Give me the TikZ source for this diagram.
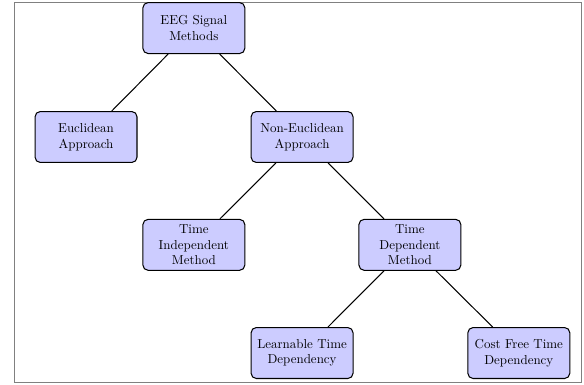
\documentclass[tikz,border=0pt]{standalone}
\begin{document}
\begin{tikzpicture}[
  method/.style={draw, thick, rounded corners=4pt, fill=blue!20, align=center,
    minimum width=2.76cm, minimum height=1.38cm, inner sep=2pt},
  link/.style={thick}]
\useasboundingbox (0,0) rectangle (15.815,-10.426);
\draw[gray, line width=0.8pt] (0.38,-0.06) rectangle (15.74,-10.37);
        \node[method] (eeg) at (5.25,-0.76) {EEG Signal\\Methods};
        \node[method] (eucl) at (2.33,-3.71) {Euclidean\\Approach};
        \node[method] (noneucl) at (8.18,-3.71) {Non-Euclidean\\Approach};
        \node[method] (indep) at (5.25,-6.63) {Time\\Independent\\Method};
        \node[method] (dep) at (11.10,-6.63) {Time\\Dependent\\Method};
        \node[method] (learn) at (8.18,-9.56) {Learnable Time\\Dependency};
        \node[method] (costfree) at (14.05,-9.56) {Cost Free Time\\Dependency};
        \draw[link] (eeg) -- (eucl);
        \draw[link] (eeg) -- (noneucl);
        \draw[link] (noneucl) -- (indep);
        \draw[link] (noneucl) -- (dep);
        \draw[link] (dep) -- (learn);
        \draw[link] (dep) -- (costfree);
      \end{tikzpicture}
\end{document}
